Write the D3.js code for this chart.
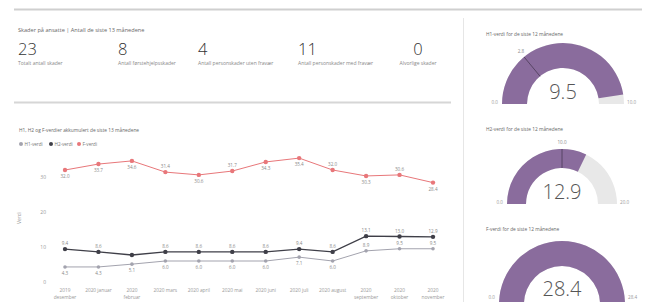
<!DOCTYPE html>
<html>
<head>
<meta charset="utf-8">
<script src="https://cdn.jsdelivr.net/npm/d3@7"></script>
<style>
  body { margin: 0; background: #fff; }
  svg { display: block; font-family: 'Open Sans', 'Noto Sans', sans-serif; }
</style>
</head>
<body>
<div id="chart"></div>
<script>
// data
const kpiTitle = 'Skader på ansatte | Antall de siste 13 månedene'
const kpiValues = [23, 8, 4, 11, 0]
const kpiLabels = [
  'Totalt antall skader',
  'Antall førstehjelpsskader',
  'Antall personskader uten fravær',
  'Antall personskader med fravær',
  'Alvorlige skader'
]

const months = [
  '2019 desember', '2020 januar', '2020 februar', '2020 mars', '2020 april', '2020 mai',
  '2020 juni', '2020 juli', '2020 august', '2020 september', '2020 oktober', '2020 november'
]
const seriesNames = ['H1-verdi', 'H2-verdi', 'F-verdi']
const h1Values = [4.3, 4.3, 5.1, 6.0, 6.0, 6.0, 6.0, 7.1, 6.0, 8.9, 9.5, 9.5]
const h2Values = [9.4, 8.6, 7.7, 8.6, 8.6, 8.6, 8.6, 9.4, 8.6, 13.1, 13.0, 12.9]
const fValues = [32.0, 33.7, 34.6, 31.4, 30.6, 31.7, 34.3, 35.4, 32.0, 30.3, 30.6, 28.4]
const yTicks = [0, 10, 20, 30]

const gaugeTitles = [
  'H1-verdi for de siste 12 månedene',
  'H2-verdi for de siste 12 månedene',
  'F-verdi for de siste 12 månedene'
]
const gaugeValues = [9.5, 12.9, 28.4]
const gaugeMax = [10, 20, 28.4]
const gaugeTargets = [2.8, 10, null]

const W = 652, H = 302
const PURPLE = '#8a6c9d'
const colors = ['#a3a3ae', '#3f3f48', '#e8777a']

const svg = d3.select('#chart').append('svg')
  .attr('width', W)
  .attr('height', H)

svg.append('rect').attr('width', W).attr('height', H).attr('fill', '#fff')

// frame lines
svg.append('line')
  .attr('x1', 14).attr('x2', 642).attr('y1', 9.5).attr('y2', 9.5)
  .attr('stroke', '#cfcfcf').attr('stroke-width', 2)
svg.append('line')
  .attr('x1', 14).attr('x2', 451).attr('y1', 102.5).attr('y2', 102.5)
  .attr('stroke', '#d6d6d6').attr('stroke-width', 2)
svg.append('line')
  .attr('x1', 463.5).attr('x2', 463.5).attr('y1', 18).attr('y2', H)
  .attr('stroke', '#e6e6e6').attr('stroke-width', 1)

// ---- KPI cards
svg.append('text')
  .attr('x', 18).attr('y', 32)
  .attr('font-size', 5.6).attr('fill', '#666')
  .text(kpiTitle)

const kpiX = [18, 118, 198, 298, 418]
const cards = svg.selectAll('.card')
  .data(kpiValues)
  .enter()
  .append('g')
  .attr('class', 'card')
  .attr('transform', (d, i) => `translate(${kpiX[i]},0)`)

cards.append('text')
  .attr('y', 55)
  .attr('text-anchor', (d, i) => i === 4 ? 'middle' : 'start')
  .attr('font-size', 16.5)
  .attr('font-weight', 300)
  .attr('fill', '#333')
  .text(d => d)

cards.append('text')
  .attr('y', 65)
  .attr('text-anchor', (d, i) => i === 4 ? 'middle' : 'start')
  .attr('font-size', 5)
  .attr('fill', '#888')
  .text((d, i) => kpiLabels[i])

// ---- line chart
svg.append('text')
  .attr('x', 19).attr('y', 132)
  .attr('font-size', 4.8).attr('fill', '#666')
  .text('H1, H2 og F-verdier akkumulert de siste 13 månedene')

const legend = svg.selectAll('.legend')
  .data(seriesNames)
  .enter()
  .append('g')
  .attr('class', 'legend')
  .attr('transform', (d, i) => `translate(${[21, 51, 79][i]},144)`)
legend.append('circle').attr('r', 2).attr('fill', (d, i) => colors[i])
legend.append('text')
  .attr('x', 3.5).attr('y', 1.6)
  .attr('font-size', 4.6).attr('fill', '#777')
  .text(d => d)

const x = d3.scalePoint().domain(months).range([65, 433])
const y = d3.scaleLinear().domain([0, 40]).range([282, 142])

// y axis tick labels
svg.selectAll('.ytick')
  .data(yTicks)
  .enter()
  .append('text')
  .attr('class', 'ytick')
  .attr('x', 46)
  .attr('y', d => y(d) + 1.8)
  .attr('text-anchor', 'end')
  .attr('font-size', 5)
  .attr('fill', '#999')
  .text(d => d)

svg.append('text')
  .attr('transform', 'translate(21,218) rotate(-90)')
  .attr('text-anchor', 'middle')
  .attr('font-size', 5)
  .attr('fill', '#999')
  .text('Verdi')

// x axis labels, long ones wrap onto two lines
svg.selectAll('.xlab')
  .data(months)
  .enter()
  .append('text')
  .attr('class', 'xlab')
  .attr('text-anchor', 'middle')
  .attr('font-size', 4.8)
  .attr('fill', '#999')
  .each(function(d) {
    const t = d3.select(this)
    const parts = d.length > 11 ? d.split(' ') : [d]
    parts.forEach((p, k) => {
      t.append('tspan').attr('x', x(d)).attr('y', 292 + k * 7).text(p)
    })
  })

const allSeries = [h1Values, h2Values, fValues]
// label above (1), below (-1) or hidden (0), the way the dashboard placed them
const labelSide = [
  [-1, -1, -1, -1, -1, -1, -1, -1, -1, 1, 1, 1],
  [1, 1, 0, 1, 1, 1, 1, 1, 1, 1, 1, 1],
  [-1, -1, -1, 1, -1, 1, -1, -1, 1, -1, 1, -1]
]
const line = d3.line()
  .x((d, i) => x(months[i]))
  .y(d => y(d))

allSeries.forEach((vals, s) => {
  const g = svg.append('g')
  g.append('path')
    .datum(vals)
    .attr('d', line)
    .attr('fill', 'none')
    .attr('stroke', colors[s])
    .attr('stroke-width', s === 1 ? 1.4 : 1)
  g.selectAll('circle')
    .data(vals)
    .enter()
    .append('circle')
    .attr('cx', (d, i) => x(months[i]))
    .attr('cy', d => y(d))
    .attr('r', s === 0 ? 1.8 : 2.2)
    .attr('fill', colors[s])
  vals.forEach((d, i) => {
    if (labelSide[s][i] === 0) return
    g.append('text')
      .attr('x', x(months[i]))
      .attr('y', y(d) + (labelSide[s][i] > 0 ? -4 : 8))
      .attr('text-anchor', 'middle')
      .attr('font-size', 4.6)
      .attr('fill', '#888')
      .text(d.toFixed(1))
  })
})

// ---- gauges
const gauges = [
  { cx: 563, cy: 104, R: 61, r: 36, ty: 36 },
  { cx: 562, cy: 204, R: 55, r: 36, ty: 131 },
  { cx: 562, cy: 304, R: 63, r: 38, ty: 231 }
]
const fmt = d3.format('.1f')

gauges.forEach((gc, i) => {
  const a = d3.scaleLinear().domain([0, gaugeMax[i]]).range([-Math.PI / 2, Math.PI / 2])
  const arc = d3.arc().innerRadius(gc.r).outerRadius(gc.R)
  const g = svg.append('g')

  g.append('text')
    .attr('x', 486).attr('y', gc.ty)
    .attr('font-size', 4.8).attr('fill', '#666')
    .text(gaugeTitles[i])

  const c = g.append('g').attr('transform', `translate(${gc.cx},${gc.cy})`)
  c.append('path')
    .attr('d', arc({ startAngle: -Math.PI / 2, endAngle: Math.PI / 2 }))
    .attr('fill', '#e8e8e8')
  c.append('path')
    .attr('d', arc({ startAngle: -Math.PI / 2, endAngle: a(gaugeValues[i]) }))
    .attr('fill', PURPLE)

  if (gaugeTargets[i] != null) {
    const ang = a(gaugeTargets[i])
    c.append('line')
      .attr('x1', Math.sin(ang) * gc.r).attr('y1', -Math.cos(ang) * gc.r)
      .attr('x2', Math.sin(ang) * gc.R).attr('y2', -Math.cos(ang) * gc.R)
      .attr('stroke', '#4a3a55').attr('stroke-width', 0.8)
    c.append('text')
      .attr('x', Math.sin(ang) * (gc.R + 5))
      .attr('y', -Math.cos(ang) * (gc.R + 5))
      .attr('text-anchor', 'middle')
      .attr('font-size', 4.6).attr('fill', '#888')
      .text(fmt(gaugeTargets[i]))
  }

  // min / max labels sit level with the arc ends, kept inside the page
  const ly = Math.min(-0.5, H - 3 - gc.cy)
  c.append('text')
    .attr('x', -gc.R - 4).attr('y', ly)
    .attr('text-anchor', 'end')
    .attr('font-size', 4.6).attr('fill', '#999')
    .text(fmt(0))
  c.append('text')
    .attr('x', gc.R + 3).attr('y', ly)
    .attr('text-anchor', 'start')
    .attr('font-size', 4.6).attr('fill', '#999')
    .text(fmt(gaugeMax[i]))

  c.append('text')
    .attr('y', Math.min(-5, H - 6 - gc.cy))
    .attr('text-anchor', 'middle')
    .attr('font-size', 20)
    .attr('font-weight', 300)
    .attr('fill', '#555')
    .text(gaugeValues[i])
})
</script>
</body>
</html>
